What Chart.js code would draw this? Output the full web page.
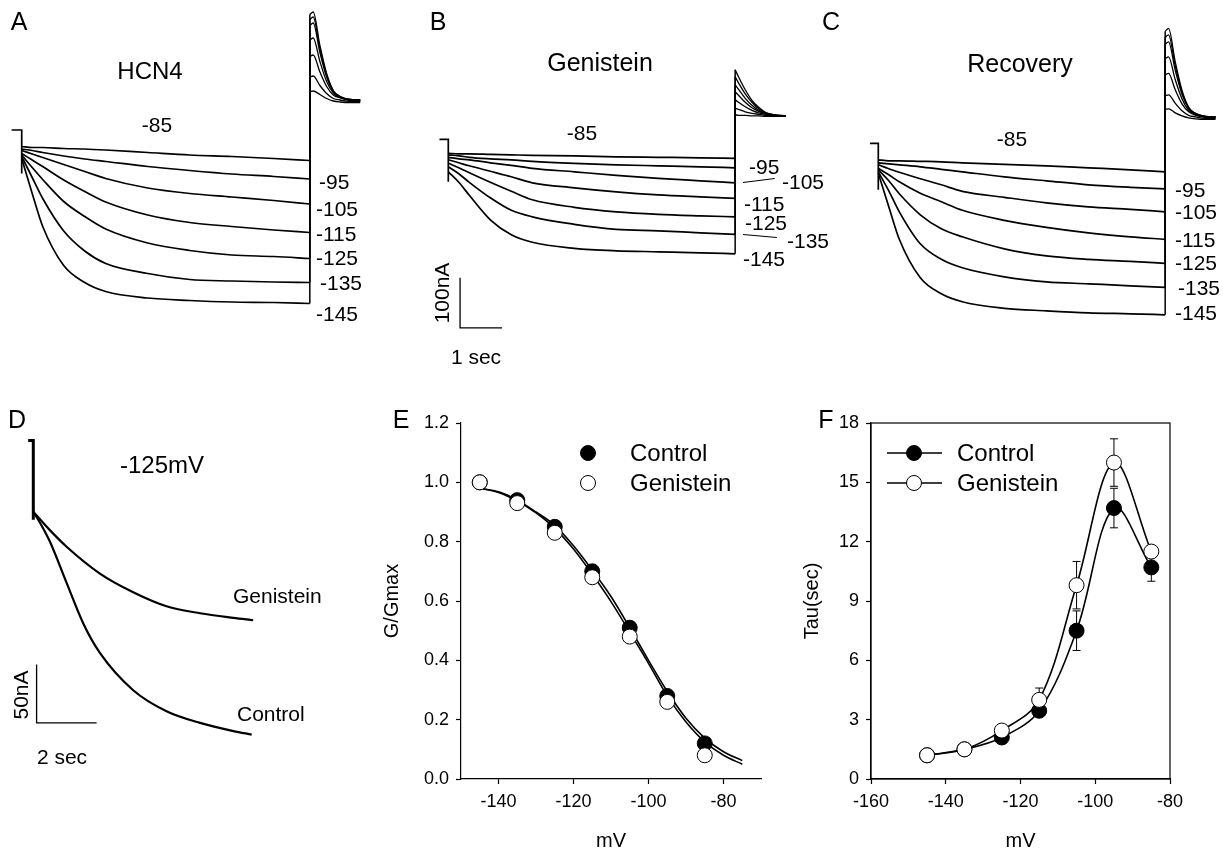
<!DOCTYPE html>
<html>
<head>
<meta charset="utf-8">
<script src="https://cdn.jsdelivr.net/npm/chart.js@4.4.1/dist/chart.umd.min.js"></script>
<style>
body{margin:0;background:#fff;width:1223px;height:853px;overflow:hidden;position:relative;font-family:"Liberation Sans",Arial,Helvetica,sans-serif;}
canvas{position:absolute;}
.txt{position:absolute;white-space:nowrap;color:#000;line-height:1;}
.lead{position:absolute;height:1px;background:#000;transform-origin:0 50%;}
</style>
</head>
<body>
<canvas id="chart_a" width="380" height="340" style="left:0;top:0"></canvas>
<canvas id="chart_b" width="420" height="340" style="left:400px;top:0"></canvas>
<canvas id="chart_c" width="403" height="340" style="left:820px;top:0"></canvas>
<canvas id="chart_d" width="380" height="400" style="left:0;top:390px"></canvas>
<canvas id="chart_e" width="400" height="453" style="left:380px;top:400px"></canvas>
<canvas id="chart_f" width="423" height="453" style="left:800px;top:400px"></canvas>
<script>
//ステップ電位（mV）、上から順
var step_labels = ['-85', '-95', '-105', '-115', '-125', '-135', '-145'];
//テール電流の時間（ステップ終了からの秒）
var tail_time = [0, 0.08, 0.24, 0.40, 0.56, 0.72, 0.95, 1.2];

//A: HCN4 の電流（nA）
var time_a = [0, 0.25, 0.5, 1, 1.5, 2, 3, 4, 5, 6, 6.86];
var hold_a_t = [-0.24, 0, 0];
var hold_a_i = [0, 0, -87];
var hcn4_traces = [
    [-33, -35, -35, -37, -38, -40, -45, -50, -53, -57, -61],
    [-38, -41, -45, -52, -58, -63, -73, -81, -88, -93, -98],
    [-41, -48, -55, -69, -83, -97, -116, -127, -134, -141, -148],
    [-47, -60, -73, -100, -123, -144, -170, -185, -193, -200, -205],
    [-50, -75, -99, -143, -173, -198, -226, -241, -250, -253, -257],
    [-53, -95, -137, -202, -242, -267, -287, -299, -302, -304, -305],
    [-57, -127, -193, -271, -305, -323, -336, -341, -344, -345, -347]
];
var hcn4_tails = [
    [77, 78, 71, 63, 58, 56, 55, 55],
    [106, 108, 89, 73, 63, 60, 57, 57],
    [147, 150, 116, 87, 70, 64, 59, 58],
    [180, 184, 137, 97, 74, 65, 60, 59],
    [209, 214, 155, 106, 77, 66, 61, 60],
    [221, 226, 163, 110, 78, 67, 61, 60],
    [231, 236, 169, 113, 79, 67, 61, 60]
];

//B: Genistein
var time_b = [0, 0.25, 0.5, 1, 1.5, 2, 3, 4, 5, 6, 6.83];
var hold_b_t = [-0.21, 0, 0];
var hold_b_i = [0, 0, -85];
var gen_traces = [
    [-28, -29, -29, -30, -31, -32, -33, -35, -36, -37, -38],
    [-31, -33, -36, -39, -41, -44, -48, -51, -53, -55, -57],
    [-36, -39, -41, -47, -52, -58, -65, -72, -78, -83, -87],
    [-41, -47, -53, -64, -75, -87, -97, -105, -111, -115, -118],
    [-48, -57, -67, -86, -104, -121, -136, -145, -150, -153, -155],
    [-55, -69, -86, -117, -142, -155, -170, -180, -183, -187, -190],
    [-65, -86, -112, -161, -191, -206, -218, -223, -225, -227, -229]
];
var gen_tails = [
    [49, 48, 48, 47, 47, 46, 46, 46],
    [62, 60, 55, 52, 50, 48, 47, 46],
    [79, 74, 65, 58, 53, 50, 48, 47],
    [95, 88, 74, 63, 56, 51, 48, 47],
    [109, 100, 82, 68, 58, 52, 48, 47],
    [125, 113, 91, 74, 61, 53, 49, 47],
    [139, 125, 99, 78, 64, 54, 49, 47]
];
//スケールバー（1 sec, 100 nA）
var bar_b_t = [0.28, 0.28, 1.28];
var bar_b_i = [-277, -377, -377];

//C: Recovery
var time_c = [0, 0.25, 0.5, 1, 1.5, 2, 3, 4, 5, 6, 6.83];
var hold_c_t = [-0.2, 0, 0];
var hold_c_i = [0, 0, -93];
var rec_traces = [
    [-33, -35, -35, -36, -37, -39, -42, -45, -49, -53, -57],
    [-39, -41, -43, -47, -52, -57, -67, -75, -83, -88, -91],
    [-43, -51, -58, -71, -83, -96, -108, -119, -127, -132, -137],
    [-50, -63, -77, -100, -117, -134, -154, -168, -179, -187, -192],
    [-53, -75, -101, -143, -171, -187, -211, -225, -232, -236, -240],
    [-57, -95, -137, -201, -232, -249, -267, -277, -281, -285, -288],
    [-60, -127, -192, -269, -301, -317, -330, -335, -339, -341, -343]
];
var rec_tails = [
    [68, 69, 61, 55, 51, 49, 48, 48],
    [95, 97, 80, 65, 56, 53, 50, 50],
    [137, 140, 107, 79, 63, 56, 52, 51],
    [169, 173, 127, 89, 66, 58, 53, 52],
    [198, 203, 146, 98, 70, 59, 54, 53],
    [212, 217, 155, 102, 71, 60, 54, 53],
    [224, 230, 163, 106, 72, 60, 54, 53]
];

//D: -125mV の比較
var d_hold_t = [-0.17, 0, 0];
var d_hold_i = [61, 61, -7];
var d_gen_t = [0, 0.56, 1.11, 2.22, 3.33, 4.44, 5.56, 6.67, 7.33];
var d_gen_i = [0, -16, -30, -53, -69, -81, -87, -91, -93];
var d_ctrl_t = [0, 0.28, 0.56, 1.11, 1.67, 2.22, 3.33, 4.44, 5.56, 6.67, 7.28];
var d_ctrl_i = [0, -12, -26, -61, -96, -121, -153, -171, -181, -188, -191];
//スケールバー（2 sec, 50 nA）
var bar_d_t = [0.11, 0.11, 2.11];
var bar_d_i = [-131, -181, -181];

//E: G/Gmax
var e_volt = [-145, -135, -125, -115, -105, -95, -85];
var e_control = [1.0, 0.94, 0.85, 0.70, 0.51, 0.28, 0.12];
var e_genistein = [1.0, 0.93, 0.83, 0.68, 0.48, 0.26, 0.08];
var e_fit_volt = [-145, -140, -135, -130, -125, -120, -115, -110, -105, -100, -95, -90, -85, -80, -75];
var e_fit_control = [0.98, 0.968, 0.94, 0.90, 0.855, 0.786, 0.704, 0.615, 0.51, 0.40, 0.295, 0.205, 0.138, 0.092, 0.062];
var e_fit_genistein = [0.98, 0.966, 0.937, 0.897, 0.845, 0.775, 0.69, 0.598, 0.495, 0.39, 0.28, 0.192, 0.125, 0.08, 0.05];
var e_x_ticks = [-140, -120, -100, -80];
var e_y_ticks = [0, 0.2, 0.4, 0.6, 0.8, 1.0, 1.2];

//F: Tau(sec)
var f_volt = [-145, -135, -125, -115, -105, -95, -85];
var f_control = [1.2, 1.5, 2.1, 3.45, 7.5, 13.7, 10.7];
var f_control_err = [0, 0, 0, 0, 1.0, 1.0, 0.7];
var f_genistein = [1.2, 1.5, 2.45, 4.0, 9.8, 16.0, 11.5];
var f_genistein_err = [0, 0, 0, 0.6, 1.2, 1.2, 0];
var f_x_ticks = [-160, -140, -120, -100, -80];
var f_y_ticks = [0, 3, 6, 9, 12, 15, 18];

Chart.defaults.font.family = '"Liberation Sans", Arial, Helvetica, sans-serif';
Chart.defaults.color = '#000';
Chart.defaults.animation = false;

//点の配列を作る
function to_points(x_arr, y_arr){
    var pts = [];
    for(var n = 0; n < x_arr.length; n++){
        pts.push({x: x_arr[n], y: y_arr[n]});
    }
    return pts;
}
//線だけのデータセット
function line_set(t_arr, i_arr, width, smooth){
    return {
        data: to_points(t_arr, i_arr),
        borderColor: '#000',
        borderWidth: width,
        pointRadius: 0,
        fill: false,
        tension: 0,
        cubicInterpolationMode: smooth ? 'monotone' : 'default'
    };
}
//軸なしのオプション（電流記録用）
function trace_options(x_min, x_max, y_min, y_max){
    return {
        responsive: false,
        devicePixelRatio: 1,
        layout: {padding: 0},
        plugins: {legend: {display: false}, tooltip: {enabled: false}},
        scales: {
            x: {type: 'linear', display: false, min: x_min, max: x_max},
            y: {type: 'linear', display: false, min: y_min, max: y_max}
        }
    };
}
//電流記録のデータセットをまとめる
function build_trace_sets(time_arr, traces, tails, hold_t, hold_i){
    var sets = [];
    var t_end = time_arr[time_arr.length - 1];
    sets.push(line_set(hold_t, hold_i, 1.7, false));
    for(var k = 0; k < traces.length; k++){
        sets.push(line_set(time_arr, traces[k], 1.7, true));
        //ステップ終了の縦線
        sets.push(line_set([t_end, t_end], [traces[k][traces[k].length - 1], tails[k][0]], 1.5, false));
        var tt = tail_time.map(function(v){ return t_end + v; });
        sets.push(line_set(tt, tails[k], 1.3, true));
    }
    return sets;
}

new Chart(document.getElementById('chart_a'), {
    type: 'line',
    data: {datasets: build_trace_sets(time_a, hcn4_traces, hcn4_tails, hold_a_t, hold_a_i)},
    options: trace_options(-0.517, 8.531, -420, 260)
});

var sets_b = build_trace_sets(time_b, gen_traces, gen_tails, hold_b_t, hold_b_i);
sets_b.push(line_set(bar_b_t, bar_b_i, 1.3, false));
new Chart(document.getElementById('chart_b'), {
    type: 'line',
    data: {datasets: sets_b},
    options: trace_options(-1.15, 8.85, -401.4, 278.6)
});

new Chart(document.getElementById('chart_c'), {
    type: 'line',
    data: {datasets: build_trace_sets(time_c, rec_traces, rec_tails, hold_c_t, hold_c_i)},
    options: trace_options(-1.388, 8.207, -393.4, 286.6)
});

new Chart(document.getElementById('chart_d'), {
    type: 'line',
    data: {datasets: [
        line_set(d_hold_t, d_hold_i, 3, false),
        line_set(d_gen_t, d_gen_i, 2.2, true),
        line_set(d_ctrl_t, d_ctrl_i, 2.2, true),
        line_set(bar_d_t, bar_d_i, 1.3, false)
    ]},
    options: trace_options(-1.11, 11.557, -238.5, 104.3)
});

//凡例の丸
function draw_marker(ctx, x, y, filled){
    ctx.save();
    ctx.beginPath();
    ctx.arc(x, y, 7.5, 0, Math.PI * 2);
    ctx.fillStyle = filled ? '#000' : '#fff';
    ctx.fill();
    ctx.lineWidth = 1;
    ctx.strokeStyle = '#000';
    ctx.stroke();
    ctx.restore();
}

//軸の共通設定（目盛りは配列から）
function axis_opts(min, max, tick_arr, title_text, fixed, fmt){
    return {
        type: 'linear',
        min: min,
        max: max,
        afterBuildTicks: function(s){
            s.ticks = tick_arr.map(function(v){ return {value: v}; });
        },
        ticks: {
            color: '#000',
            font: {size: 18},
            padding: 7,
            callback: fmt
        },
        grid: {drawOnChartArea: false, drawTicks: true, tickLength: 5, color: '#000', tickWidth: 1.2},
        border: {display: true, color: '#000', width: 1.2},
        title: {display: true, text: title_text, color: '#000', font: {size: 20}, padding: 0},
        afterFit: fixed
    };
}

var legend_e = {
    id: 'legend_e',
    afterDraw: function(chart){
        draw_marker(chart.ctx, 208, 53, true);
        draw_marker(chart.ctx, 208, 83, false);
    }
};

new Chart(document.getElementById('chart_e'), {
    type: 'line',
    data: {datasets: [
        {data: to_points(e_volt, e_genistein), showLine: false, pointRadius: 7.5, pointBackgroundColor: '#fff', pointBorderColor: '#000', pointBorderWidth: 1, order: 0},
        {data: to_points(e_volt, e_control), showLine: false, pointRadius: 7.5, pointBackgroundColor: '#000', pointBorderColor: '#000', pointBorderWidth: 1, order: 1},
        Object.assign(line_set(e_fit_volt, e_fit_control, 1.6, true), {order: 2}),
        Object.assign(line_set(e_fit_volt, e_fit_genistein, 1.6, true), {order: 3})
    ]},
    options: {
        responsive: false,
        devicePixelRatio: 1,
        layout: {padding: {top: 23, right: 19, left: 0, bottom: 0}},
        plugins: {legend: {display: false}, tooltip: {enabled: false}},
        scales: {
            x: axis_opts(-150, -70, e_x_ticks, 'mV', function(s){ s.height = 74; }, function(v){ return v; }),
            y: axis_opts(0, 1.2, e_y_ticks, 'G/Gmax', function(s){ s.width = 81; }, function(v){ return v.toFixed(1); })
        }
    },
    plugins: [legend_e]
});

//F の枠線とエラーバー
var frame_err_f = {
    id: 'frame_err_f',
    beforeDatasetsDraw: function(chart){
        var ctx = chart.ctx;
        var a = chart.chartArea;
        var xs = chart.scales.x;
        var ys = chart.scales.y;
        ctx.save();
        ctx.strokeStyle = '#000';
        ctx.lineWidth = 1.2;
        ctx.strokeRect(a.left, a.top, a.right - a.left, a.bottom - a.top);
        ctx.lineWidth = 1;
        var groups = [[f_control, f_control_err], [f_genistein, f_genistein_err]];
        groups.forEach(function(g){
            for(var n = 0; n < f_volt.length; n++){
                if(g[1][n] <= 0){ continue; }
                var px = xs.getPixelForValue(f_volt[n]);
                var y1 = ys.getPixelForValue(g[0][n] - g[1][n]);
                var y2 = ys.getPixelForValue(g[0][n] + g[1][n]);
                ctx.beginPath();
                ctx.moveTo(px, y1); ctx.lineTo(px, y2);
                ctx.moveTo(px - 4, y1); ctx.lineTo(px + 4, y1);
                ctx.moveTo(px - 4, y2); ctx.lineTo(px + 4, y2);
                ctx.stroke();
            }
        });
        ctx.restore();
    },
    afterDraw: function(chart){
        var ctx = chart.ctx;
        ctx.save();
        ctx.strokeStyle = '#000';
        ctx.lineWidth = 1.5;
        ctx.beginPath();
        ctx.moveTo(87, 53); ctx.lineTo(142, 53);
        ctx.moveTo(87, 83); ctx.lineTo(142, 83);
        ctx.stroke();
        ctx.restore();
        draw_marker(ctx, 114, 53, true);
        draw_marker(ctx, 114, 83, false);
    }
};

new Chart(document.getElementById('chart_f'), {
    type: 'line',
    data: {datasets: [
        {data: to_points(f_volt, f_genistein), borderColor: '#000', borderWidth: 1.6, tension: 0.35, pointRadius: 7.5, pointBackgroundColor: '#fff', pointBorderColor: '#000', pointBorderWidth: 1, order: 0},
        {data: to_points(f_volt, f_control), borderColor: '#000', borderWidth: 1.6, tension: 0.35, pointRadius: 7.5, pointBackgroundColor: '#000', pointBorderColor: '#000', pointBorderWidth: 1, order: 1}
    ]},
    options: {
        responsive: false,
        devicePixelRatio: 1,
        layout: {padding: {top: 23, right: 53, left: 0, bottom: 0}},
        plugins: {legend: {display: false}, tooltip: {enabled: false}},
        scales: {
            x: axis_opts(-160, -80, f_x_ticks, 'mV', function(s){ s.height = 74; }, function(v){ return v; }),
            y: axis_opts(0, 18, f_y_ticks, 'Tau(sec)', function(s){ s.width = 71; }, function(v){ return v; })
        }
    },
    plugins: [frame_err_f]
});

//文字を置く（中心基準 or 左基準）
function put_text(str, x, y, size, mode){
    var el = document.createElement('div');
    el.className = 'txt';
    el.textContent = str;
    el.style.left = x + 'px';
    el.style.top = y + 'px';
    el.style.fontSize = size + 'px';
    if(mode == 'left'){
        el.style.transform = 'translateY(-50%)';
    }else if(mode == 'rot'){
        el.style.transform = 'translate(-50%,-50%) rotate(-90deg)';
    }else{
        el.style.transform = 'translate(-50%,-50%)';
    }
    document.body.appendChild(el);
}
//引き出し線
function put_lead(x1, y1, x2, y2){
    var el = document.createElement('div');
    el.className = 'lead';
    var len = Math.sqrt((x2 - x1) * (x2 - x1) + (y2 - y1) * (y2 - y1));
    el.style.left = x1 + 'px';
    el.style.top = y1 + 'px';
    el.style.width = len + 'px';
    el.style.transform = 'rotate(' + Math.atan2(y2 - y1, x2 - x1) + 'rad)';
    document.body.appendChild(el);
}

//パネル文字
put_text('A', 19, 21, 25);
put_text('B', 438, 21, 25);
put_text('C', 831, 21, 25);
put_text('D', 17, 419, 25);
put_text('E', 401, 419, 25);
put_text('F', 826, 419, 25);

//A
put_text('HCN4', 150, 71, 24);
put_text(step_labels[0], 157, 124, 21);
var a_pos = [[319, 181], [316, 208], [316, 233], [316, 257], [320, 282], [316, 313]];
for(var n = 0; n < a_pos.length; n++){ put_text(step_labels[n + 1], a_pos[n][0], a_pos[n][1], 21, 'left'); }

//B
put_text('Genistein', 600, 62, 25);
put_text(step_labels[0], 582, 132, 21);
var b_pos = [[749, 166], [782, 181], [744, 203], [745, 222], [787, 240], [743, 258]];
for(var n = 0; n < b_pos.length; n++){ put_text(step_labels[n + 1], b_pos[n][0], b_pos[n][1], 21, 'left'); }
put_lead(743, 182, 775, 178);
put_lead(743, 234, 777, 237);
put_text('100nA', 441, 293, 21, 'rot');
put_text('1 sec', 476, 356, 21);

//C
put_text('Recovery', 1020, 63, 25);
put_text(step_labels[0], 1012, 138, 21);
var c_pos = [[1175, 189], [1175, 211], [1175, 239], [1175, 262], [1178, 287], [1175, 312]];
for(var n = 0; n < c_pos.length; n++){ put_text(step_labels[n + 1], c_pos[n][0], c_pos[n][1], 21, 'left'); }

//D
put_text('-125mV', 162, 465, 24);
put_text('Genistein', 233, 595, 21, 'left');
put_text('Control', 237, 713, 21, 'left');
put_text('50nA', 20, 695, 21, 'rot');
put_text('2 sec', 62, 756, 21);

//凡例の文字
put_text('Control', 630, 453, 24, 'left');
put_text('Genistein', 630, 483, 24, 'left');
put_text('Control', 957, 453, 24, 'left');
put_text('Genistein', 957, 483, 24, 'left');
</script>
</body>
</html>
